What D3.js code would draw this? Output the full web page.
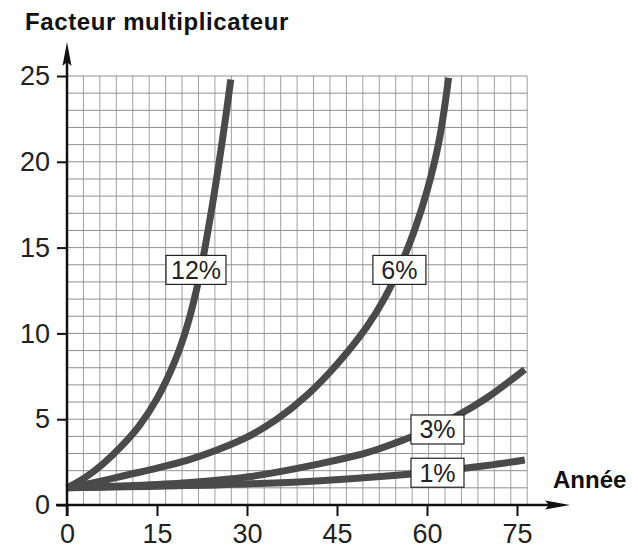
<!DOCTYPE html>
<html>
<head>
<meta charset="utf-8">
<script src="https://cdn.jsdelivr.net/npm/d3@7"></script>
<style>
  body { margin: 0; background: #fff; }
  svg { display: block; font-family: "Liberation Sans", Arial, sans-serif; }
  .tick text { font-size: 27px; fill: #222; }
</style>
</head>
<body>
<div id="chart-area"></div>
<script>

// Data (year, multiplying factor)
var years12 = [0, 3, 6, 9, 12, 15, 18, 20, 22, 24, 26, 27.3];
var values12 = [1, 1.6, 2.4, 3.4, 4.6, 6.2, 8.4, 10.4, 13.2, 17.0, 21.5, 24.8];

var years6 = [0, 5, 10, 15, 20, 25, 30, 35, 40, 45, 50, 53, 56, 58, 60, 62, 63.6];
var values6 = [1, 1.35, 1.75, 2.15, 2.6, 3.2, 3.95, 5.0, 6.4, 8.2, 10.4, 12.1, 14.3, 16.1, 18.3, 21.2, 24.9];

var years3 = [0, 10, 20, 30, 40, 50, 55, 60, 65, 70, 76.3];
var values3 = [1, 1.12, 1.3, 1.63, 2.25, 3.05, 3.65, 4.35, 5.2, 6.25, 7.9];

var years1 = [0, 10, 20, 25, 30, 40, 50, 60, 70, 76.3];
var values1 = [1, 1.06, 1.13, 1.17, 1.23, 1.37, 1.6, 1.9, 2.3, 2.62];

var seriesNames = ["12%", "6%", "3%", "1%"];
// label box centres in data units
var labelYears = [21.5, 55.4, 61.75, 61.75];
var labelValues = [13.7, 13.7, 4.4, 1.88];

var xTicks = [0, 15, 30, 45, 60, 75];
var yTicks = [0, 5, 10, 15, 20, 25];

var series = [
  {name: seriesNames[0], years: years12, values: values12},
  {name: seriesNames[1], years: years6, values: values6},
  {name: seriesNames[2], years: years3, values: values3},
  {name: seriesNames[3], years: years1, values: values1}
];

// SVG drawing area
var margin = {top: 76, right: 121, bottom: 44, left: 67};
var width = 638 - margin.left - margin.right,
    height = 549 - margin.top - margin.bottom;

var svg = d3.select("#chart-area").append("svg")
    .attr("width", 638)
    .attr("height", 549);

var g = svg.append("g")
    .attr("transform", "translate(" + margin.left + "," + margin.top + ")");

// Scales
var x = d3.scaleLinear().domain([0, 75]).range([0, width]);
var y = d3.scaleLinear().domain([0, 25]).range([height, 0]);

// graph paper grid
var gridXMax = 76.7, gridCols = 28;
var gridX = d3.range(gridCols + 1).map(function(i) { return i * gridXMax / gridCols; });
var gridY = d3.range(26);

g.append("g").selectAll("line.v")
    .data(gridX).enter().append("line")
    .attr("x1", function(d) { return x(d); })
    .attr("x2", function(d) { return x(d); })
    .attr("y1", y(0))
    .attr("y2", y(25))
    .attr("stroke", "#a0a0a0")
    .attr("stroke-width", 1);

g.append("g").selectAll("line.h")
    .data(gridY).enter().append("line")
    .attr("x1", x(0))
    .attr("x2", x(gridXMax))
    .attr("y1", function(d) { return y(d); })
    .attr("y2", function(d) { return y(d); })
    .attr("stroke", "#909090")
    .attr("stroke-width", 1);

// curves
var line = d3.line()
    .x(function(d) { return x(d[0]); })
    .y(function(d) { return y(d[1]); })
    .curve(d3.curveCatmullRom.alpha(0.5));

g.selectAll("path.curve")
    .data(series).enter().append("path")
    .attr("class", "curve")
    .attr("d", function(s) { return line(d3.zip(s.years, s.values)); })
    .attr("fill", "none")
    .attr("stroke", "#4a4a4a")
    .attr("stroke-width", 7);

// Axes
var xAxis = d3.axisBottom(x).tickValues(xTicks).tickSize(11).tickPadding(8);
var yAxis = d3.axisLeft(y).tickValues(yTicks).tickSize(10).tickPadding(7);

var gx = g.append("g")
    .attr("transform", "translate(0," + height + ")")
    .call(xAxis);
var gy = g.append("g").call(yAxis);

[gx, gy].forEach(function(a) {
  a.select(".domain").remove();
  a.selectAll(".tick line").attr("stroke", "#111").attr("stroke-width", 2);
  a.selectAll(".tick text").attr("font-family", null).attr("font-size", null);
});

// axis lines with arrows
g.append("line")
    .attr("x1", -11).attr("x2", 485)
    .attr("y1", height).attr("y2", height)
    .attr("stroke", "#111").attr("stroke-width", 2.5);
g.append("path")
    .attr("d", "M503," + height + "L478," + (height - 4.5) + "L482," + height + "L478," + (height + 4.5) + "Z")
    .attr("fill", "#111");

g.append("line")
    .attr("x1", 0).attr("x2", 0)
    .attr("y1", height + 11).attr("y2", -16)
    .attr("stroke", "#111").attr("stroke-width", 2.5);
g.append("path")
    .attr("d", "M0,-34L-4.5,-10L0,-14L4.5,-10Z")
    .attr("fill", "#111");

// label boxes
var labels = g.selectAll("g.lab")
    .data(series).enter().append("g")
    .attr("transform", function(s, i) {
      return "translate(" + x(labelYears[i]) + "," + y(labelValues[i]) + ")";
    });

labels.append("rect")
    .attr("x", function(s) { return s.name.length > 2 ? -30 : -26.5; })
    .attr("y", -14.5)
    .attr("width", function(s) { return s.name.length > 2 ? 60 : 53; })
    .attr("height", 29)
    .attr("fill", "#fff")
    .attr("stroke", "#222")
    .attr("stroke-width", 1.2);

labels.append("text")
    .attr("text-anchor", "middle")
    .attr("y", 9)
    .attr("font-size", 25)
    .attr("fill", "#222")
    .text(function(s) { return s.name; });

// titles
svg.append("text")
    .attr("x", 25).attr("y", 30)
    .attr("font-size", 24)
    .attr("font-weight", "bold")
    .attr("letter-spacing", 0.6)
    .attr("fill", "#111")
    .text("Facteur multiplicateur");

svg.append("text")
    .attr("x", 553).attr("y", 488)
    .attr("font-size", 24)
    .attr("font-weight", "bold")
    .attr("fill", "#111")
    .text("Année");

</script>
</body>
</html>
